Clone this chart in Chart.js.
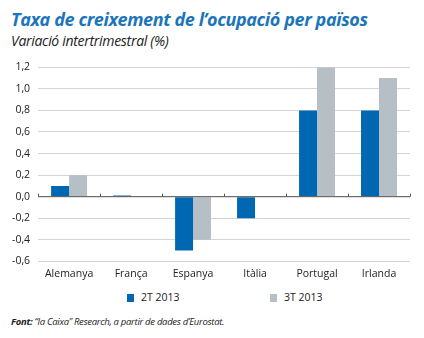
<!DOCTYPE html>
<html>
<head>
<meta charset="utf-8">
<script src="https://cdn.jsdelivr.net/npm/chart.js@4"></script>
<style>
  body { margin: 0; background: #fff; font-family: "Open Sans", sans-serif; }
  #wrap { position: relative; width: 424px; height: 338px; overflow: hidden; }
  .title { position: absolute; left: 11px; top: 7px; font-size: 18px; font-weight: bold; font-style: italic; color: #1b75bb; letter-spacing: -0.4px; }
  .sub { position: absolute; left: 11px; top: 31px; font-size: 14px; font-style: italic; color: #222; letter-spacing: -0.3px; }
  #box { position: absolute; left: 0; top: 53px; width: 424px; height: 233px; }
  .leg { position: absolute; top: 290px; font-size: 10.5px; color: #222; }
  .leg span { display: inline-block; width: 7px; height: 8px; margin-right: 7px; vertical-align: -1px; }
  .foot { position: absolute; left: 11px; top: 315px; font-size: 9.5px; font-style: italic; color: #222; letter-spacing: -0.3px; }
</style>
</head>
<body>
<div id="wrap">
  <div class="title">Taxa de creixement de l’ocupació per països</div>
  <div class="sub">Variació intertrimestral (%)</div>
  <div id="box"><canvas id="chart"></canvas></div>
  <div class="leg" style="left:127px"><span style="background:#0068b3"></span>2T 2013</div>
  <div class="leg" style="left:270px"><span style="background:#b5bfc5"></span>3T 2013</div>
  <div class="foot"><b>Font:</b> “la Caixa” Research, a partir de dades d’Eurostat.</div>
</div>
<script>
const countries = ['Alemanya', 'França', 'Espanya', 'Itàlia', 'Portugal', 'Irlanda'];
const q2 = [0.1, 0.01, -0.5, -0.2, 0.8, 0.8];
const q3 = [0.2, 0.005, -0.4, 0.005, 1.2, 1.1];
const seriesNames = ['2T 2013', '3T 2013'];

// little tick marks on the zero line between the countries
const zeroTicks = {
  id: 'zeroTicks',
  afterDatasetsDraw(chart) {
    const ctx = chart.ctx;
    const x = chart.scales.x, y = chart.scales.y;
    const y0 = y.getPixelForValue(0);
    ctx.save();
    ctx.strokeStyle = '#555';
    ctx.lineWidth = 1;
    ctx.beginPath();
    ctx.moveTo(chart.chartArea.left, y0);
    ctx.lineTo(chart.chartArea.right, y0);
    for (let i = 0; i <= countries.length; i++) {
      const px = Math.round(x.getPixelForValue(i - 0.5)) + 0.5;
      ctx.moveTo(px, y0 - 3);
      ctx.lineTo(px, y0);
    }
    ctx.stroke();
    ctx.restore();
  }
};

new Chart(document.getElementById('chart'), {
  type: 'bar',
  data: {
    labels: countries,
    datasets: [
      { label: seriesNames[0], data: q2, backgroundColor: '#0068b3' },
      { label: seriesNames[1], data: q3, backgroundColor: '#b5bfc5' }
    ]
  },
  options: {
    responsive: true,
    maintainAspectRatio: false,
    animation: false,
    layout: { padding: { top: 6, right: 14, left: 4, bottom: 0 } },
    datasets: { bar: { categoryPercentage: 0.58, barPercentage: 1.0 } },
    plugins: { legend: { display: false }, tooltip: { enabled: false } },
    scales: {
      x: {
        grid: { display: false, drawTicks: false },
        border: { display: false },
        ticks: { color: '#222', font: { family: 'Open Sans', size: 10.5 }, padding: 6 }
      },
      y: {
        min: -0.6,
        max: 1.2,
        ticks: {
          stepSize: 0.2,
          color: '#222',
          padding: 8,
          font: { family: 'Open Sans', size: 10.5 },
          callback: v => v.toFixed(1).replace('.', ',').replace('-0,0', '0,0')
        },
        grid: { color: '#d4d4d4', drawTicks: false },
        border: { display: false }
      }
    }
  },
  plugins: [zeroTicks]
});
</script>
</body>
</html>
